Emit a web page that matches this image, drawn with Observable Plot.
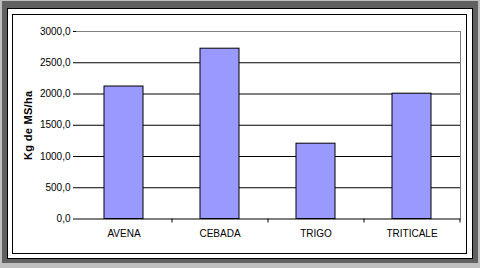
<!DOCTYPE html>
<html>
<head>
<meta charset="utf-8">
<script src="https://cdn.jsdelivr.net/npm/d3@7"></script>
<script src="https://cdn.jsdelivr.net/npm/@observablehq/plot@0.6"></script>
<style>
  html, body { margin: 0; padding: 0; }
  body { width: 480px; height: 268px; position: relative; overflow: hidden; background: #c0c0c0; font-family: "Liberation Sans", Arial, sans-serif; }
  #shadow { position: absolute; left: 2px; top: 1px; width: 476px; height: 262px; background: #616161; }
  #outer { position: absolute; left: 7px; top: 8px; width: 464px; height: 249px; background: #fff; border: 1px solid #000; }
  #inner { position: absolute; left: 12px; top: 14px; width: 453px; height: 238px; border: 1px solid #000; }
  #chart { position: absolute; left: 0; top: 0; }
  #chart svg { background: transparent !important; }
  #chart [aria-label="y-axis label"] text { font-weight: bold; font-size: 11px; letter-spacing: 0.3px; }
</style>
</head>
<body>
<div id="shadow"></div>
<div id="outer"></div>
<div id="inner"></div>
<div id="chart"></div>
<script>
const categories = ["AVENA", "CEBADA", "TRIGO", "TRITICALE"];
const values = [2120, 2725, 1205, 2005];
const yTicks = [0, 500, 1000, 1500, 2000, 2500, 3000];
const gridValues = [500, 1000, 1500, 2000, 2500];
const yLabel = "Kg de MS/ha";

const data = categories.map((c, i) => ({cat: c, value: values[i]}));
const fmt = d => d.toFixed(1).replace(".", ",");

const chart = Plot.plot({
  width: 480,
  height: 268,
  marginLeft: 76,
  marginRight: 20,
  marginTop: 31,
  marginBottom: 49.5,
  style: {background: "transparent", fontFamily: "'Liberation Sans', Arial, sans-serif", fontSize: "10px", color: "#000"},
  x: {domain: categories, paddingInner: 0.59, paddingOuter: 0.295},
  y: {domain: [0, 3000]},
  marks: [
    Plot.ruleY(gridValues, {stroke: "#000", strokeWidth: 1}),
    Plot.frame({anchor: "top", stroke: "#808080"}),
    Plot.frame({anchor: "right", stroke: "#808080"}),
    Plot.barY(data, {x: "cat", y: "value", fill: "#9999ff", stroke: "#000", strokeWidth: 1}),
    Plot.ruleY([0], {stroke: "#000"}),
    Plot.ruleX(categories.slice(1), {x: d => d, y1: 0, y2: 0, insetBottom: -4, dx: -48, stroke: "#000"}),
    Plot.ruleX(categories.slice(-1), {x: d => d, y1: 0, y2: 0, insetBottom: -4, dx: 48, stroke: "#000"}),
    Plot.axisX({tickSize: 0, tickPadding: 11, label: null, fill: "#000"}),
    Plot.axisY({ticks: yTicks, tickSize: 3, tickPadding: 3, tickFormat: fmt, stroke: "#000", fill: "#000",
      label: yLabel, labelAnchor: "center", labelArrow: false, labelOffset: 52}),
    Plot.ruleX([0], {frameAnchor: "left", stroke: "#000"})
  ]
});
document.getElementById("chart").appendChild(chart);
</script>
</body>
</html>
